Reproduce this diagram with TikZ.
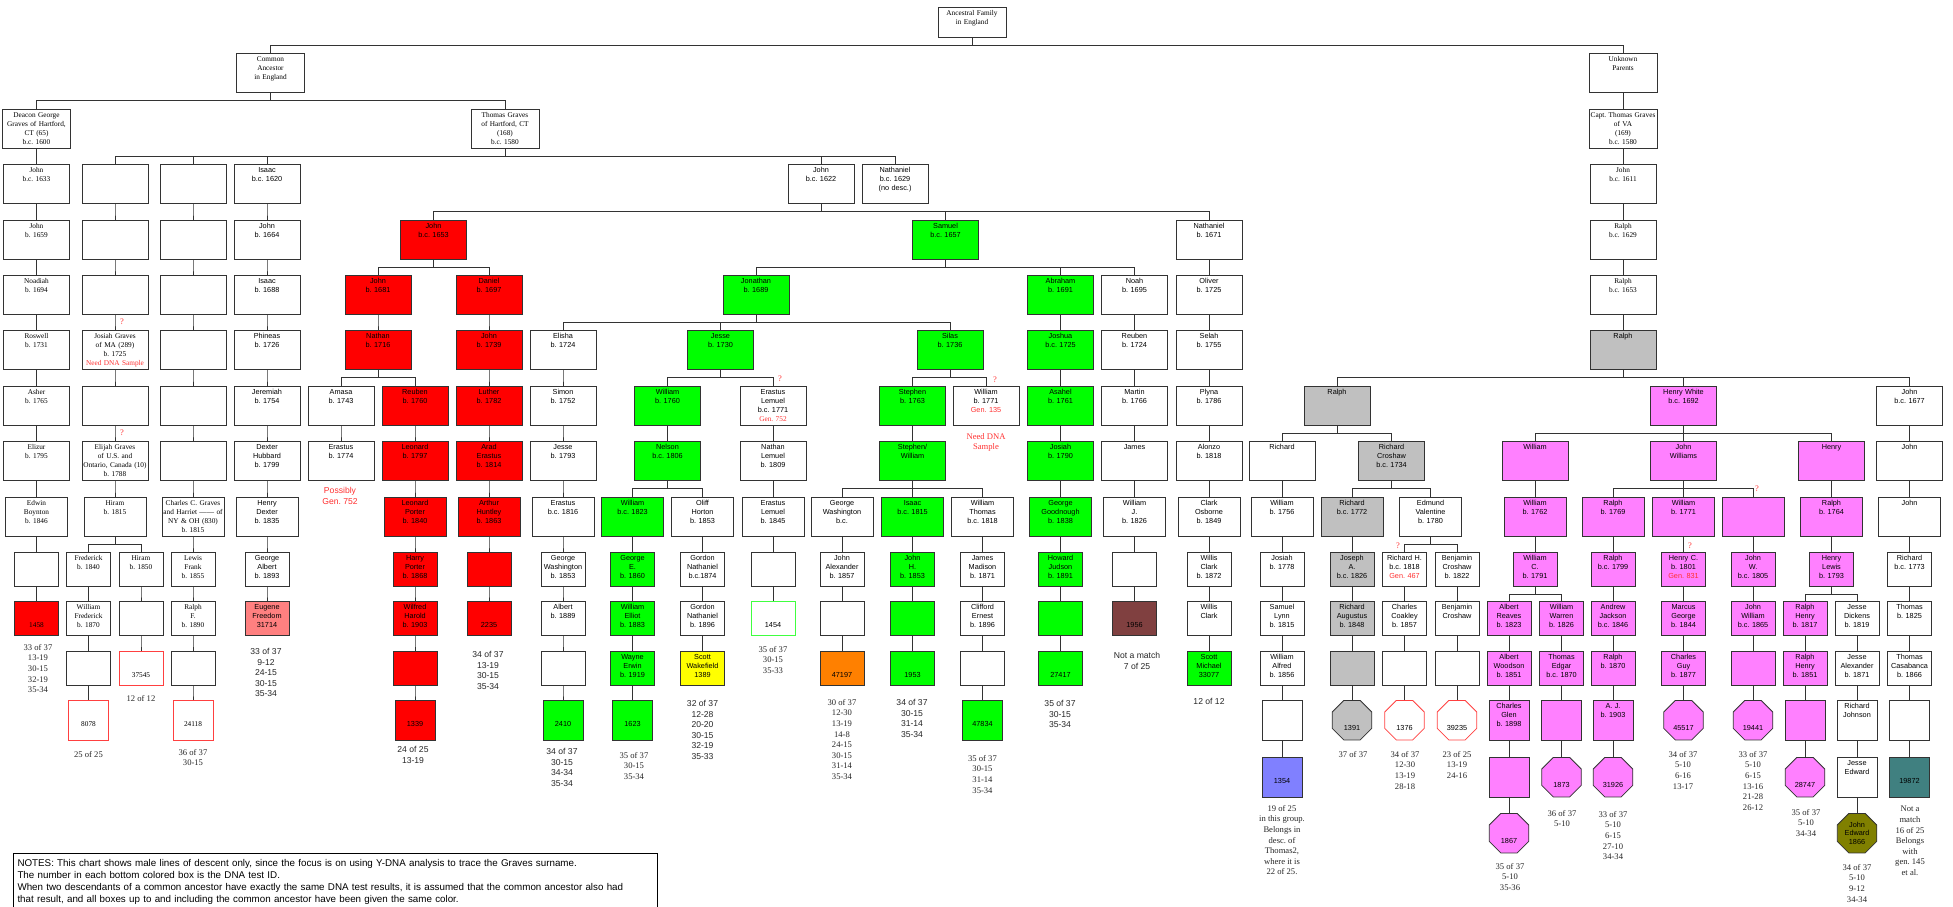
\documentclass[tikz,border=0pt]{standalone}
\usepackage{fontspec}
\setmainfont{Liberation Serif}
\setsansfont{Liberation Sans}
\usetikzlibrary{shapes.geometric}
\frenchspacing

\definecolor{dnared}{HTML}{FF0000}
\definecolor{dnagreen}{HTML}{00FF00}
\definecolor{dnapink}{HTML}{FF80FF}
\definecolor{dnagrey}{HTML}{C0C0C0}
\definecolor{dnasalmon}{HTML}{FF8080}
\definecolor{dnayellow}{HTML}{FFFF00}
\definecolor{dnaorange}{HTML}{FF8000}
\definecolor{dnabrown}{HTML}{804040}
\definecolor{dnablue}{HTML}{8080FF}
\definecolor{dnateal}{HTML}{408080}
\definecolor{dnaolive}{HTML}{808000}
\definecolor{dnaredline}{HTML}{FF4040}
\definecolor{dnagreenline}{HTML}{40FF40}
\definecolor{boxline}{HTML}{333333}
\definecolor{warn}{HTML}{FF3030}

\newcommand\boxfont{\fontsize{7.3}{8.7}\selectfont}
\newcommand\resfont{\fontsize{8.6}{10.6}\selectfont}
\newcommand\lowid[1]{\mbox{}\\\mbox{}\\#1}

\tikzset{
  person/.style={draw=boxline, line width=0.8pt, anchor=north, align=center, inner xsep=0pt, inner ysep=1.5pt, text height=7pt, font=\sffamily\boxfont},
  top/.style={person, text width=68pt, text depth=29pt},
  wide/.style={person, text width=66pt, text depth=29pt},
  mid/.style={person, text width=62pt, text depth=29pt},
  small/.style={person, text width=44pt, text depth=23.5pt},
  sq/.style={person, text width=40pt, text depth=30pt},
  octbase/.style={draw=boxline, line width=0.8pt, anchor=north, align=center, regular polygon, regular polygon sides=8, minimum size=42.8pt, inner sep=0pt, font=\sffamily\boxfont},
  octo/.style={octbase, text height=21pt, text depth=0pt},
  serif/.style={font=\rmfamily\boxfont},
  redfam/.style={fill=dnared},
  greenfam/.style={fill=dnagreen},
  pinkfam/.style={fill=dnapink},
  greyfam/.style={fill=dnagrey},
  rededge/.style={draw=dnaredline},
  result/.style={anchor=north, align=center, inner sep=0pt, text=black!85, font=\rmfamily\resfont},
  sresult/.style={result, font=\sffamily\resfont},
  query/.style={text=warn, inner sep=0pt, font=\rmfamily\fontsize{8.5}{9}\selectfont},
  link/.style={draw=boxline, line width=0.8pt},
  notes/.style={draw=black, line width=1pt, anchor=north west, align=left, text width=636pt, inner xsep=4pt, inner ysep=2pt, text height=10.5pt, text depth=60pt, font=\sffamily\fontsize{9.8}{12}\selectfont}
}

\begin{document}
\begin{tikzpicture}[x=1pt,y=1pt]
\useasboundingbox (0,0) rectangle (1953,-906);

\node[top, serif, text depth=20pt] (anc) at (972,-7) {Ancestral Family\\in England};
\node[top, serif] (comm) at (270.5,-53) {Common\\Ancestor\\in England};
\node[top, serif] (unk) at (1623,-53) {Unknown\\Parents};
\node[top, serif] (deacon) at (36.5,-109) {Deacon George\\Graves of Hartford,\\CT (65)\\b.c. 1600};
\node[top, serif] (thomas) at (505,-109) {Thomas Graves\\of Hartford, CT\\(168)\\b.c. 1580};
\node[top, serif] (capt) at (1623,-109) {Capt. Thomas Graves\\of VA\\(169)\\b.c. 1580};

\node[wide, serif] (a3) at (36.5,-164) {John\\b.c. 1633};
\node[wide, serif] (b3) at (115,-164) {};
\node[wide, serif] (c3) at (193,-164) {};
\node[wide] (d3) at (267,-164) {Isaac\\b.c. 1620};
\node[wide] (john1622) at (821,-164) {John\\b.c. 1622};
\node[wide] (nath1629) at (895,-164) {Nathaniel\\b.c. 1629\\(no desc.)};
\node[wide, serif] (john1611) at (1623,-164) {John\\b.c. 1611};

\node[wide, serif] (a4) at (36.5,-220) {John\\b. 1659};
\node[wide, serif] (b4) at (115,-220) {};
\node[wide, serif] (c4) at (193,-220) {};
\node[wide] (d4) at (267,-220) {John\\b. 1664};
\node[wide, redfam] (j1653) at (433.5,-220) {John\\b.c. 1653};
\node[wide, greenfam] (sam) at (945.5,-220) {Samuel\\b.c. 1657};
\node[wide] (nat1671) at (1209,-220) {Nathaniel\\b. 1671};
\node[wide, serif] (ralph1629) at (1623,-220) {Ralph\\b.c. 1629};

\node[wide, serif] (a5) at (36.5,-275) {Noadiah\\b. 1694};
\node[wide, serif] (b5) at (115,-275) {};
\node[wide, serif] (c5) at (193,-275) {};
\node[wide] (d5) at (267,-275) {Isaac\\b. 1688};
\node[wide, redfam] (j1681) at (378,-275) {John\\b. 1681};
\node[wide, redfam] (dan) at (489,-275) {Daniel\\b. 1697};
\node[wide, greenfam] (jon) at (756,-275) {Jonathan\\b. 1689};
\node[wide, greenfam] (abr) at (1060.5,-275) {Abraham\\b. 1691};
\node[wide] (noah) at (1134.5,-275) {Noah\\b. 1695};
\node[wide] (oliver) at (1209,-275) {Oliver\\b. 1725};
\node[wide, serif] (ralph1653) at (1623,-275) {Ralph\\b.c. 1653};

\node[wide, serif] (a6) at (36.5,-330) {Roswell\\b. 1731};
\node[wide, serif] (b6) at (115,-330) {Josiah Graves\\of MA (289)\\b. 1725\\\textcolor{warn}{Need DNA Sample}};
\node[wide, serif] (c6) at (193,-330) {};
\node[wide] (d6) at (267,-330) {Phineas\\b. 1726};
\node[wide, redfam] (nathan) at (378,-330) {Nathan\\b. 1716};
\node[wide, redfam] (j1739) at (489,-330) {John\\b. 1739};
\node[wide] (elisha) at (563,-330) {Elisha\\b. 1724};
\node[wide, greenfam] (jesse) at (720.5,-330) {Jesse\\b. 1730};
\node[wide, greenfam] (silas) at (950,-330) {Silas\\b. 1736};
\node[wide, greenfam] (joshua) at (1060.5,-330) {Joshua\\b.c. 1725};
\node[wide] (reuben1724) at (1134.5,-330) {Reuben\\b. 1724};
\node[wide] (selah) at (1209,-330) {Selah\\b. 1755};
\node[wide, greyfam] (ralph6) at (1623,-330) {Ralph};

\node[wide, serif] (a7) at (36.5,-386) {Asher\\b. 1765};
\node[wide, serif] (b7) at (115,-386) {};
\node[wide, serif] (c7) at (193,-386) {};
\node[wide] (d7) at (267,-386) {Jeremiah\\b. 1754};
\node[wide] (amasa) at (341,-386) {Amasa\\b. 1743};
\node[wide, redfam] (reuben) at (415,-386) {Reuben\\b. 1760};
\node[wide, redfam] (luther) at (489,-386) {Luther\\b. 1782};
\node[wide] (simon) at (563,-386) {Simon\\b. 1752};
\node[wide, greenfam] (will1760) at (667.5,-386) {William\\b. 1760};
\node[wide] (erl) at (773,-386) {Erastus\\Lemuel\\b.c. 1771\\{\rmfamily\textcolor{warn}{Gen. 752}}};
\node[wide, greenfam] (stephen) at (912.5,-386) {Stephen\\b. 1763};
\node[wide] (will1771) at (986,-386) {William\\b. 1771\\\textcolor{warn}{Gen. 135}};
\node[wide, greenfam] (asahel) at (1060.5,-386) {Asahel\\b. 1761};
\node[wide] (martin) at (1134.5,-386) {Martin\\b. 1766};
\node[wide] (plyna) at (1209,-386) {Plyna\\b. 1786};
\node[wide, greyfam] (ralph7) at (1337,-386) {Ralph};
\node[wide, pinkfam] (hwhite) at (1683.5,-386) {Henry White\\b.c. 1692};
\node[wide] (john1677) at (1909.5,-386) {John\\b.c. 1677};

\node[wide, serif] (a8) at (36.5,-441) {Elizur\\b. 1795};
\node[wide, serif] (b8) at (115,-441) {Elijah Graves\\of U.S. and\\Ontario, Canada (10)\\b. 1788};
\node[wide, serif] (c8) at (193,-441) {};
\node[wide] (d8) at (267,-441) {Dexter\\Hubbard\\b. 1799};
\node[wide] (erastus1774) at (341,-441) {Erastus\\b. 1774};
\node[wide, redfam] (leonard) at (415,-441) {Leonard\\b. 1797};
\node[wide, redfam] (arad) at (489,-441) {Arad\\Erastus\\b. 1814};
\node[wide] (jesse1793) at (563,-441) {Jesse\\b. 1793};
\node[wide, greenfam] (nelson) at (667.5,-441) {Nelson\\b.c. 1806};
\node[wide] (natlem) at (773,-441) {Nathan\\Lemuel\\b. 1809};
\node[wide, greenfam] (stw) at (912.5,-441) {Stephen/\\William};
\node[wide, greenfam] (josiah) at (1060.5,-441) {Josiah\\b. 1790};
\node[wide] (james) at (1134.5,-441) {James};
\node[wide] (alonzo) at (1209,-441) {Alonzo\\b. 1818};
\node[wide] (richard) at (1282,-441) {Richard};
\node[wide, greyfam] (croshaw) at (1391.5,-441) {Richard\\Croshaw\\b.c. 1734};
\node[wide, pinkfam] (william8) at (1535,-441) {William};
\node[wide, pinkfam] (jwilliams) at (1683.5,-441) {John\\Williams};
\node[wide, pinkfam] (henry8) at (1831.5,-441) {Henry};
\node[wide] (john8) at (1909.5,-441) {John};

\node[mid, serif] (a9) at (36.5,-497) {Edwin\\Boynton\\b. 1846};
\node[mid, serif] (b9) at (115,-497) {Hiram\\b. 1815};
\node[mid, serif] (c9) at (193,-497) {Charles C. Graves\\and Harriet ------ of\\NY \& OH (830)\\b. 1815};
\node[mid] (d9) at (267,-497) {Henry\\Dexter\\b. 1835};
\node[mid, redfam] (lporter) at (415,-497) {Leonard\\Porter\\b. 1840};
\node[mid, redfam] (arthur) at (489,-497) {Arthur\\Huntley\\b. 1863};
\node[mid] (erastus1816) at (563,-497) {Erastus\\b.c. 1816};
\node[mid, greenfam] (will1823) at (632.5,-497) {William\\b.c. 1823};
\node[mid] (oliff) at (702.5,-497) {Oliff\\Horton\\b. 1853};
\node[mid] (erl1845) at (773,-497) {Erastus\\Lemuel\\b. 1845};
\node[mid] (gwbc) at (842,-497) {George\\Washington\\b.c.};
\node[mid, greenfam] (isaac1815) at (912.5,-497) {Isaac\\b.c. 1815};
\node[mid] (wthomas) at (982.5,-497) {William\\Thomas\\b.c. 1818};
\node[mid, greenfam] (goodn) at (1060.5,-497) {George\\Goodnough\\b. 1838};
\node[mid] (wj) at (1134.5,-497) {William\\J.\\b. 1826};
\node[mid] (clark) at (1209,-497) {Clark\\Osborne\\b. 1849};
\node[mid] (wm1756) at (1282,-497) {William\\b. 1756};
\node[mid, greyfam] (rich1772) at (1352,-497) {Richard\\b.c. 1772};
\node[mid] (edmund) at (1430.5,-497) {Edmund\\Valentine\\b. 1780};
\node[mid, pinkfam] (wm1762) at (1535,-497) {William\\b. 1762};
\node[mid, pinkfam] (ralph1769) at (1613,-497) {Ralph\\b. 1769};
\node[mid, pinkfam] (wm1771) at (1683.5,-497) {William\\b. 1771};
\node[mid, pinkfam] (jw9) at (1753,-497) {};
\node[mid, pinkfam] (ralph1764) at (1831.5,-497) {Ralph\\b. 1764};
\node[mid] (john9) at (1909.5,-497) {John};

\node[small, serif] (a10) at (36.5,-552) {};
\node[small, serif] (fred) at (88.5,-552) {Frederick\\b. 1840};
\node[small, serif] (hiram) at (141,-552) {Hiram\\b. 1850};
\node[small, serif] (c10) at (193,-552) {Lewis\\Frank\\b. 1855};
\node[small] (d10) at (267,-552) {George\\Albert\\b. 1893};
\node[small, redfam] (harry) at (415,-552) {Harry\\Porter\\b. 1868};
\node[small, redfam] (ar10) at (489,-552) {};
\node[small] (gw1853) at (563,-552) {George\\Washington\\b. 1853};
\node[small, greenfam] (georgeE) at (632.5,-552) {George\\E.\\b. 1860};
\node[small] (gn1874) at (702.5,-552) {Gordon\\Nathaniel\\b.c.1874};
\node[small] (el10) at (773,-552) {};
\node[small] (jalex) at (842,-552) {John\\Alexander\\b. 1857};
\node[small, greenfam] (johnH) at (912.5,-552) {John\\H.\\b. 1853};
\node[small] (jmad) at (982.5,-552) {James\\Madison\\b. 1871};
\node[small, greenfam] (howard) at (1060.5,-552) {Howard\\Judson\\b. 1891};
\node[small] (wj10) at (1134.5,-552) {};
\node[small] (willis) at (1209,-552) {Willis\\Clark\\b. 1872};
\node[small] (josiah1778) at (1282,-552) {Josiah\\b. 1778};
\node[small, greyfam] (joseph) at (1352,-552) {Joseph\\A.\\b.c. 1826};
\node[small] (richH) at (1404.5,-552) {Richard H.\\b.c. 1818\\\textcolor{warn}{Gen. 467}};
\node[small] (benj) at (1457,-552) {Benjamin\\Croshaw\\b. 1822};
\node[small, pinkfam] (wmC) at (1535,-552) {William\\C.\\b. 1791};
\node[small, pinkfam] (ralph1799) at (1613,-552) {Ralph\\b.c. 1799};
\node[small, pinkfam] (henryC) at (1683.5,-552) {Henry C.\\b. 1801\\\textcolor{warn}{Gen. 831}};
\node[small, pinkfam] (johnW) at (1753,-552) {John\\W.\\b.c. 1805};
\node[small, pinkfam] (hlewis) at (1831.5,-552) {Henry\\Lewis\\b. 1793};
\node[small] (rich1773) at (1909.5,-552) {Richard\\b.c. 1773};

\node[small, serif, redfam] (a11) at (36.5,-601) {\lowid{1458}};
\node[small, serif] (b11) at (88.5,-601) {William\\Frederick\\b. 1870};
\node[small, serif] (h11) at (141,-601) {};
\node[small, serif] (c11) at (193,-601) {Ralph\\F.\\b. 1890};
\node[small, fill=dnasalmon] (d11) at (267,-601) {Eugene\\Freedom\\31714};
\node[small, redfam] (wilfred) at (415,-601) {Wilfred\\Harold\\b. 1903};
\node[small, redfam] (t2235) at (489,-601) {\lowid{2235}};
\node[small] (albert) at (563,-601) {Albert\\b. 1889};
\node[small, greenfam] (welliot) at (632.5,-601) {William\\Elliot\\b. 1883};
\node[small] (gn1896) at (702.5,-601) {Gordon\\Nathaniel\\b. 1896};
\node[small, draw=dnagreenline] (t1454) at (773,-601) {\lowid{1454}};
\node[small] (ja11) at (842,-601) {};
\node[small, greenfam] (jh11) at (912.5,-601) {};
\node[small] (cliff) at (982.5,-601) {Clifford\\Ernest\\b. 1896};
\node[small, greenfam] (hj11) at (1060.5,-601) {};
\node[small, fill=dnabrown] (t1956) at (1134.5,-601) {\lowid{1956}};
\node[small] (willis2) at (1209,-601) {Willis\\Clark};
\node[small] (samuel) at (1282,-601) {Samuel\\Lynn\\b. 1815};
\node[small, greyfam] (raug) at (1352,-601) {Richard\\Augustus\\b. 1848};
\node[small] (coakley) at (1404.5,-601) {Charles\\Coakley\\b. 1857};
\node[small] (benj2) at (1457,-601) {Benjamin\\Croshaw};
\node[small, pinkfam] (albertR) at (1509,-601) {Albert\\Reaves\\b. 1823};
\node[small, pinkfam] (wwarren) at (1561.5,-601) {William\\Warren\\b. 1826};
\node[small, pinkfam] (andrew) at (1613,-601) {Andrew\\Jackson\\b.c. 1846};
\node[small, pinkfam] (marcus) at (1683.5,-601) {Marcus\\George\\b. 1844};
\node[small, pinkfam] (jwm) at (1753,-601) {John\\William\\b.c. 1865};
\node[small, pinkfam] (rhenry) at (1805,-601) {Ralph\\Henry\\b. 1817};
\node[small] (jdickens) at (1857,-601) {Jesse\\Dickens\\b. 1819};
\node[small] (thomas1825) at (1909.5,-601) {Thomas\\b. 1825};

\node[small, serif] (b12) at (88.5,-651) {};
\node[small, serif, rededge] (h12) at (141,-651) {\lowid{37545}};
\node[small, serif] (c12) at (193,-651) {};
\node[small, redfam] (red12) at (415,-651) {};
\node[small] (e12) at (563,-651) {};
\node[small, greenfam] (wayne) at (632.5,-651) {Wayne\\Erwin\\b. 1919};
\node[small, fill=dnayellow] (scott) at (702.5,-651) {Scott\\Wakefield\\1389};
\node[small, fill=dnaorange] (t47197) at (842,-651) {\lowid{47197}};
\node[small, greenfam] (t1953) at (912.5,-651) {\lowid{1953}};
\node[small] (cl12) at (982.5,-651) {};
\node[small, greenfam] (t27417) at (1060.5,-651) {\lowid{27417}};
\node[small, greenfam] (t33077) at (1209,-651) {Scott\\Michael\\33077};
\node[small] (walfred) at (1282,-651) {William\\Alfred\\b. 1856};
\node[small, greyfam] (ra12) at (1352,-651) {};
\node[small] (co12) at (1404.5,-651) {};
\node[small] (be12) at (1457,-651) {};
\node[small, pinkfam] (albertW) at (1509,-651) {Albert\\Woodson\\b. 1851};
\node[small, pinkfam] (tedgar) at (1561.5,-651) {Thomas\\Edgar\\b.c. 1870};
\node[small, pinkfam] (ralph1870) at (1613,-651) {Ralph\\b. 1870};
\node[small, pinkfam] (cguy) at (1683.5,-651) {Charles\\Guy\\b. 1877};
\node[small, pinkfam] (jwm12) at (1753,-651) {};
\node[small, pinkfam] (rhenry2) at (1805,-651) {Ralph\\Henry\\b. 1851};
\node[small] (jalexander) at (1857,-651) {Jesse\\Alexander\\b. 1871};
\node[small] (casab) at (1909.5,-651) {Thomas\\Casabanca\\b. 1866};

\node[sq, serif, rededge] (b13) at (88.5,-700) {\lowid{8078}};
\node[sq, serif, rededge] (c13) at (193,-700) {\lowid{24118}};
\node[sq, redfam] (t1339) at (415,-700) {\lowid{1339}};
\node[sq, greenfam] (t2410) at (563,-700) {\lowid{2410}};
\node[sq, greenfam] (t1623) at (632.5,-700) {\lowid{1623}};
\node[sq, greenfam] (t47834) at (982.5,-700) {\lowid{47834}};
\node[sq] (wa13) at (1282,-700) {};
\node[octo, greyfam] (t1391) at (1352,-700) {1391};
\node[octo, rededge] (t1376) at (1404.5,-700) {1376};
\node[octo, rededge] (t39235) at (1457,-700) {39235};
\node[sq, pinkfam] (cglen) at (1509,-700) {Charles\\Glen\\b. 1898};
\node[sq, pinkfam] (te13) at (1561.5,-700) {};
\node[sq, pinkfam] (aj) at (1613,-700) {A. J.\\b. 1903};
\node[octo, pinkfam] (t45517) at (1683.5,-700) {45517};
\node[octo, pinkfam] (t19441) at (1753,-700) {19441};
\node[sq, pinkfam] (rh13) at (1805,-700) {};
\node[sq] (rjohnson) at (1857,-700) {Richard\\Johnson};
\node[sq] (tc13) at (1909.5,-700) {};

\node[sq, fill=dnablue] (t1354) at (1282,-757) {\lowid{1354}};
\node[sq, pinkfam] (cg14) at (1509,-757) {};
\node[octo, pinkfam] (t1873) at (1561.5,-757) {1873};
\node[octo, pinkfam] (t31926) at (1613,-757) {31926};
\node[octo, pinkfam] (t28747) at (1805,-757) {28747};
\node[sq] (jedward) at (1857,-757) {Jesse\\Edward};
\node[sq, fill=dnateal] (t19872) at (1909.5,-757) {\lowid{19872}};

\node[octo, pinkfam] (t1867) at (1509,-813) {1867};
\node[octbase, fill=dnaolive] (t1866) at (1857,-813) {John\\Edward\\1866};

\foreach \p/\c in {anc/comm, anc/unk, comm/deacon, comm/thomas, unk/capt,
    deacon/a3, a3/a4, a4/a5, a5/a6, a6/a7, a7/a8, a8/a9, a9/a10, a10/a11,
    thomas/b3, thomas/c3, thomas/d3, thomas/john1622, thomas/nath1629,
    b3/b4, b4/b5, b5/b6, b6/b7, b7/b8, b8/b9, b9/fred, b9/hiram, fred/b11, b11/b12, b12/b13, hiram/h11, h11/h12,
    c3/c4, c4/c5, c5/c6, c6/c7, c7/c8, c8/c9, c9/c10, c10/c11, c11/c12, c12/c13,
    d3/d4, d4/d5, d5/d6, d6/d7, d7/d8, d8/d9, d9/d10, d10/d11,
    john1622/j1653, john1622/sam, john1622/nat1671,
    j1653/j1681, j1653/dan, j1681/nathan, nathan/amasa, nathan/reuben, amasa/erastus1774,
    reuben/leonard, leonard/lporter, lporter/harry, harry/wilfred, wilfred/red12, red12/t1339,
    dan/j1739, j1739/luther, luther/arad, arad/arthur, arthur/ar10, ar10/t2235,
    sam/jon, sam/abr, sam/noah, jon/elisha, jon/jesse, jon/silas,
    elisha/simon, simon/jesse1793, jesse1793/erastus1816, erastus1816/gw1853, gw1853/albert, albert/e12, e12/t2410,
    jesse/will1760, jesse/erl, will1760/nelson, nelson/will1823, nelson/oliff,
    will1823/georgeE, georgeE/welliot, welliot/wayne, wayne/t1623, oliff/gn1874, gn1874/gn1896, gn1896/scott,
    erl/natlem, natlem/erl1845, erl1845/el10, el10/t1454,
    silas/stephen, silas/will1771, stephen/stw, stw/gwbc, stw/isaac1815, stw/wthomas,
    gwbc/jalex, jalex/ja11, ja11/t47197, isaac1815/johnH, johnH/jh11, jh11/t1953,
    wthomas/jmad, jmad/cliff, cliff/cl12, cl12/t47834,
    abr/joshua, joshua/asahel, asahel/josiah, josiah/goodn, goodn/howard, howard/hj11, hj11/t27417,
    noah/reuben1724, reuben1724/martin, martin/james, james/wj, wj/wj10, wj10/t1956,
    nat1671/oliver, oliver/selah, selah/plyna, plyna/alonzo, alonzo/clark, clark/willis, willis/willis2, willis2/t33077,
    capt/john1611, john1611/ralph1629, ralph1629/ralph1653, ralph1653/ralph6,
    ralph6/ralph7, ralph6/hwhite, ralph6/john1677,
    ralph7/richard, ralph7/croshaw, richard/wm1756, wm1756/josiah1778, josiah1778/samuel, samuel/walfred, walfred/wa13, wa13/t1354,
    croshaw/rich1772, croshaw/edmund, rich1772/joseph, joseph/raug, raug/ra12, ra12/t1391,
    edmund/richH, edmund/benj, richH/coakley, coakley/co12, co12/t1376, benj/benj2, benj2/be12, be12/t39235,
    hwhite/william8, hwhite/jwilliams, hwhite/henry8, william8/wm1762, wm1762/wmC, wmC/albertR, wmC/wwarren,
    albertR/albertW, albertW/cglen, cglen/cg14, cg14/t1867, wwarren/tedgar, tedgar/te13, te13/t1873,
    jwilliams/ralph1769, jwilliams/wm1771, jwilliams/jw9,
    ralph1769/ralph1799, ralph1799/andrew, andrew/ralph1870, ralph1870/aj, aj/t31926,
    wm1771/henryC, henryC/marcus, marcus/cguy, cguy/t45517, jw9/johnW, johnW/jwm, jwm/jwm12, jwm12/t19441,
    henry8/ralph1764, ralph1764/hlewis, hlewis/rhenry, hlewis/jdickens, rhenry/rhenry2, rhenry2/rh13, rh13/t28747,
    jdickens/jalexander, jalexander/rjohnson, rjohnson/jedward, jedward/t1866,
    john1677/john8, john8/john9, john9/rich1773, rich1773/thomas1825, thomas1825/casab, casab/tc13, tc13/t19872}
  \draw[link] (\p.south) -- ++(0,-8) -| (\c.north);

\node[query] (q1) at (122,-322) {?};
\node[query] (q2) at (122,-433) {?};
\node[query] (q3) at (780,-379) {?};
\node[query] (q4) at (995,-380) {?};
\node[query] (q5) at (1398,-546) {?};
\node[query] (q6) at (1757,-489) {?};
\node[query] (q7) at (1690,-546) {?};

\node[result] (r1458) at (38,-644) {33 of 37\\13-19\\30-15\\32-19\\35-34};
\node[result] (r8078) at (88.5,-751) {25 of 25};
\node[result] (r37545) at (141,-695) {12 of 12};
\node[result] (r24118) at (193,-749) {36 of 37\\30-15};
\node[sresult] (r31714) at (266,-648) {33 of 37\\9-12\\24-15\\30-15\\35-34};
\node[sresult, text=warn] (possibly) at (340,-487) {Possibly\\Gen. 752};
\node[sresult] (r1339) at (413,-746) {24 of 25\\13-19};
\node[sresult] (r2235) at (488,-651) {34 of 37\\13-19\\30-15\\35-34};
\node[sresult] (r2410) at (562,-748) {34 of 37\\30-15\\34-34\\35-34};
\node[result] (r1623) at (634,-752) {35 of 37\\30-15\\35-34};
\node[sresult] (r1389) at (702.5,-700) {32 of 37\\12-28\\20-20\\30-15\\32-19\\35-33};
\node[result] (r1454) at (773,-646) {35 of 37\\30-15\\35-33};
\node[result] (r47197) at (842,-699) {30 of 37\\12-30\\13-19\\14-8\\24-15\\30-15\\31-14\\35-34};
\node[sresult] (r1953) at (912,-699) {34 of 37\\30-15\\31-14\\35-34};
\node[result] (r47834) at (982.5,-755) {35 of 37\\30-15\\31-14\\35-34};
\node[result, text=warn] (needdna) at (986,-433) {Need DNA\\Sample};
\node[sresult] (r27417) at (1060,-700) {35 of 37\\30-15\\35-34};
\node[sresult] (r1956) at (1137,-652) {Not a match\\7 of 25};
\node[sresult] (r33077) at (1209,-698) {12 of 12};
\node[result] (r1354) at (1282,-805) {19 of 25\\in this group.\\Belongs in\\desc. of\\Thomas2,\\where it is\\22 of 25.};
\node[result] (r1391) at (1353,-751) {37 of 37};
\node[result] (r1376) at (1405,-751) {34 of 37\\12-30\\13-19\\28-18};
\node[result] (r39235) at (1457,-751) {23 of 25\\13-19\\24-16};
\node[result] (r1867) at (1510,-863) {35 of 37\\5-10\\35-36};
\node[result] (r1873) at (1562,-810) {36 of 37\\5-10};
\node[result] (r31926) at (1613,-811) {33 of 37\\5-10\\6-15\\27-10\\34-34};
\node[result] (r45517) at (1683,-751) {34 of 37\\5-10\\6-16\\13-17};
\node[result] (r19441) at (1753,-751) {33 of 37\\5-10\\6-15\\13-16\\21-28\\26-12};
\node[result] (r28747) at (1806,-809) {35 of 37\\5-10\\34-34};
\node[result] (r1866) at (1857,-864) {34 of 37\\5-10\\9-12\\34-34};
\node[result] (r19872) at (1910,-806) {Not a\\match\\16 of 25\\Belongs\\with\\gen. 145\\et al.};

\node[notes] (notes) at (13,-853) {NOTES: This chart shows male lines of descent only, since the focus is on using Y-DNA analysis to trace the Graves surname.\\
The number in each bottom colored box is the DNA test ID.\\
When two descendants of a common ancestor have exactly the same DNA test results, it is assumed that the common ancestor also had\\
that result, and all boxes up to and including the common ancestor have been given the same color.};
\end{tikzpicture}
\end{document}
